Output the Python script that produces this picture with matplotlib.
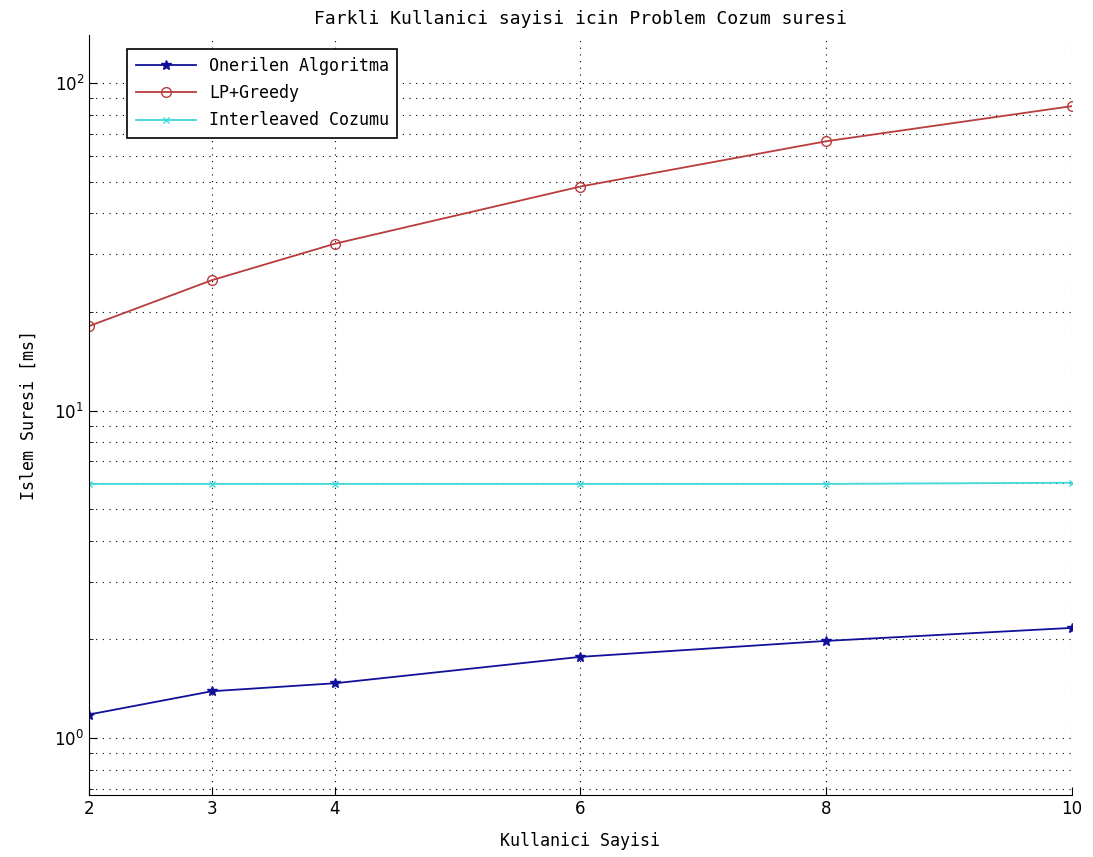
import matplotlib.pyplot as plt
from matplotlib.ticker import FixedLocator, LogLocator, NullFormatter

users = [2, 3, 4, 6, 8, 10]
onerilen = [1.18, 1.39, 1.47, 1.77, 1.98, 2.17]
lp_greedy = [18.1, 25.0, 32.3, 48.3, 66.4, 85.0]
interleaved = [5.97, 5.97, 5.97, 5.97, 5.97, 6.02]

labels = ["Onerilen Algoritma", "LP+Greedy", "Interleaved Cozumu"]
mono = "DejaVu Sans Mono"

fig = plt.figure(figsize=(10.93, 8.57), dpi=100)
ax = fig.add_axes([0.0814, 0.0723, 0.8994, 0.8867])

ax.plot(users, onerilen, color="#10109a", marker="*", markersize=7, lw=1.3, label=labels[0])
ax.plot(users, lp_greedy, color="#b83c3c", marker="o", markersize=7, mfc="none", lw=1.3, label=labels[1])
ax.plot(users, interleaved, color="#40d8d8", marker="x", markersize=5, lw=1.3, label=labels[2])

ax.set_yscale("log")
ax.set_xlim(2, 10)
ax.set_ylim(0.67, 140)
ax.xaxis.set_major_locator(FixedLocator(users))
ax.yaxis.set_minor_locator(LogLocator(base=10, subs=range(2, 10)))
ax.yaxis.set_minor_formatter(NullFormatter())

ax.grid(True, which="both", axis="y", color="black", linestyle=(0, (1, 5)), lw=0.8)
ax.grid(True, which="major", axis="x", color="black", linestyle=(0, (1, 5)), lw=0.8)

for side in ["top", "right"]:
    ax.spines[side].set_visible(False)
ax.tick_params(which="both", direction="in", labelsize=12)
ax.tick_params(which="major", length=6)
ax.tick_params(which="minor", length=3)

ax.set_title("Farkli Kullanici sayisi icin Problem Cozum suresi", family=mono, fontsize=13, pad=8)
ax.set_xlabel("Kullanici Sayisi", family=mono, fontsize=12, labelpad=10)
ax.set_ylabel("Islem Suresi [ms]", family=mono, fontsize=12, labelpad=12)

leg = ax.legend(loc="upper left", bbox_to_anchor=(0.039, 0.982), prop={"family": mono, "size": 12},
                fancybox=False, framealpha=1, edgecolor="black", borderaxespad=0,
                handlelength=3.6, labelspacing=0.55, borderpad=0.5)
leg.get_frame().set_linewidth(1.2)

fig.savefig("out.png", dpi=100)
